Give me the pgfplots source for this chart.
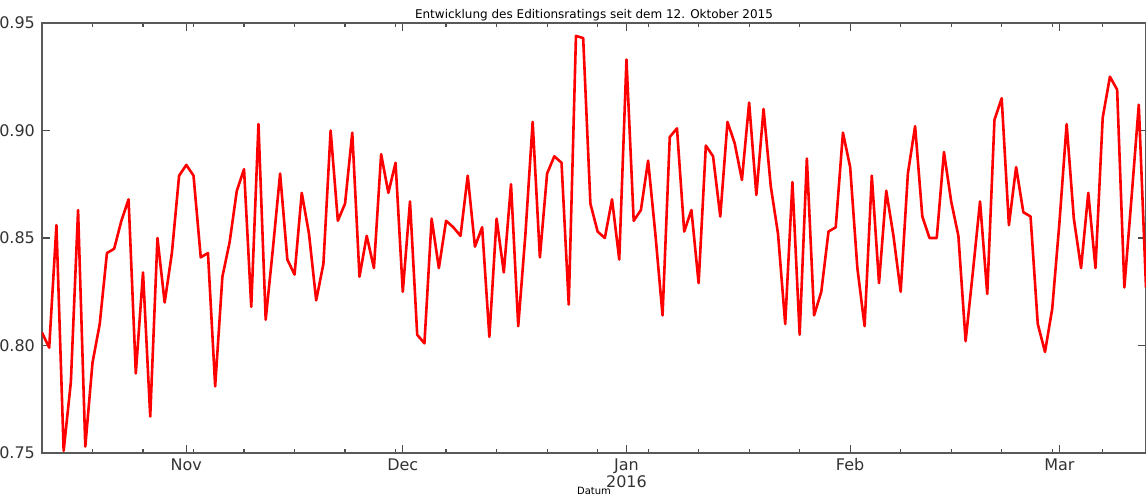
\documentclass[border=0pt]{standalone}
\usepackage{fontspec}
\setmainfont{DejaVu Sans}
\usepackage{pgfplots}
\usepackage{pgfplotstable}
\pgfplotsset{compat=1.18}

% Daily edition rating, day 0 = 12 Oct 2015
\pgfplotstableread{
day rating
0 0.806
1 0.799
2 0.856
3 0.751
4 0.783
5 0.863
6 0.753
7 0.792
8 0.810
9 0.843
10 0.845
11 0.858
12 0.868
13 0.787
14 0.834
15 0.767
16 0.850
17 0.820
18 0.843
19 0.879
20 0.884
21 0.879
22 0.841
23 0.843
24 0.781
25 0.832
26 0.848
27 0.872
28 0.882
29 0.818
30 0.903
31 0.812
32 0.845
33 0.880
34 0.840
35 0.833
36 0.871
37 0.852
38 0.821
39 0.838
40 0.900
41 0.858
42 0.866
43 0.899
44 0.832
45 0.851
46 0.836
47 0.889
48 0.871
49 0.885
50 0.825
51 0.867
52 0.805
53 0.801
54 0.859
55 0.836
56 0.858
57 0.855
58 0.851
59 0.879
60 0.846
61 0.855
62 0.804
63 0.859
64 0.834
65 0.875
66 0.809
67 0.852
68 0.904
69 0.841
70 0.880
71 0.888
72 0.885
73 0.819
74 0.944
75 0.943
76 0.866
77 0.853
78 0.850
79 0.868
80 0.840
81 0.933
82 0.858
83 0.863
84 0.886
85 0.852
86 0.814
87 0.897
88 0.901
89 0.853
90 0.863
91 0.829
92 0.893
93 0.888
94 0.860
95 0.904
96 0.894
97 0.877
98 0.913
99 0.870
100 0.910
101 0.874
102 0.852
103 0.810
104 0.876
105 0.805
106 0.887
107 0.814
108 0.825
109 0.853
110 0.855
111 0.899
112 0.883
113 0.836
114 0.809
115 0.879
116 0.829
117 0.872
118 0.851
119 0.825
120 0.880
121 0.902
122 0.860
123 0.850
124 0.850
125 0.890
126 0.867
127 0.851
128 0.802
129 0.834
130 0.867
131 0.824
132 0.905
133 0.915
134 0.856
135 0.883
136 0.862
137 0.860
138 0.810
139 0.797
140 0.817
141 0.857
142 0.903
143 0.859
144 0.836
145 0.871
146 0.836
147 0.906
148 0.925
149 0.919
150 0.827
151 0.869
152 0.912
153 0.827
}\ratings

\begin{document}
\begin{tikzpicture}
\begin{axis}[
  scale only axis,
  width=552pt, height=215pt,
  xmin=0, xmax=153,
  ymin=0.75, ymax=0.95,
  axis line style={black!65, line width=0.9pt},
  xtick={20,50,81,112,141},
  xticklabels={Nov,Dec,{Jan\\2016},Feb,Mar},
  minor xtick={0,7,...,153},
  ytick={0.75,0.80,0.85,0.90,0.95},
  yticklabel={\pgfmathprintnumber[fixed,fixed zerofill,precision=2]{\tick}},
  /pgf/number format/assume math mode=true,
  tick align=inside,
  tick style={black!70, line width=0.6pt},
  major tick length=4pt,
  minor tick length=2pt,
  ticklabel style={font=\fontsize{8}{6.5}\selectfont, text=black!80},
  xticklabel style={align=center, yshift=0.8pt},
  title={Entwicklung des Editionsratings seit dem 12. Oktober 2015},
  title style={font=\fontsize{6}{6.5}\selectfont, yshift=-8.5pt},
  xlabel={Datum},
  xlabel style={font=\fontsize{5}{6}\selectfont, yshift=7pt},
]
\addplot[red, line width=1.3pt, line join=round] table[x=day, y=rating] {\ratings};
\end{axis}
\pgfresetboundingbox
\path[use as bounding box] (-21pt,-23.5pt) rectangle (552pt,226.5pt);
\end{tikzpicture}
\end{document}
